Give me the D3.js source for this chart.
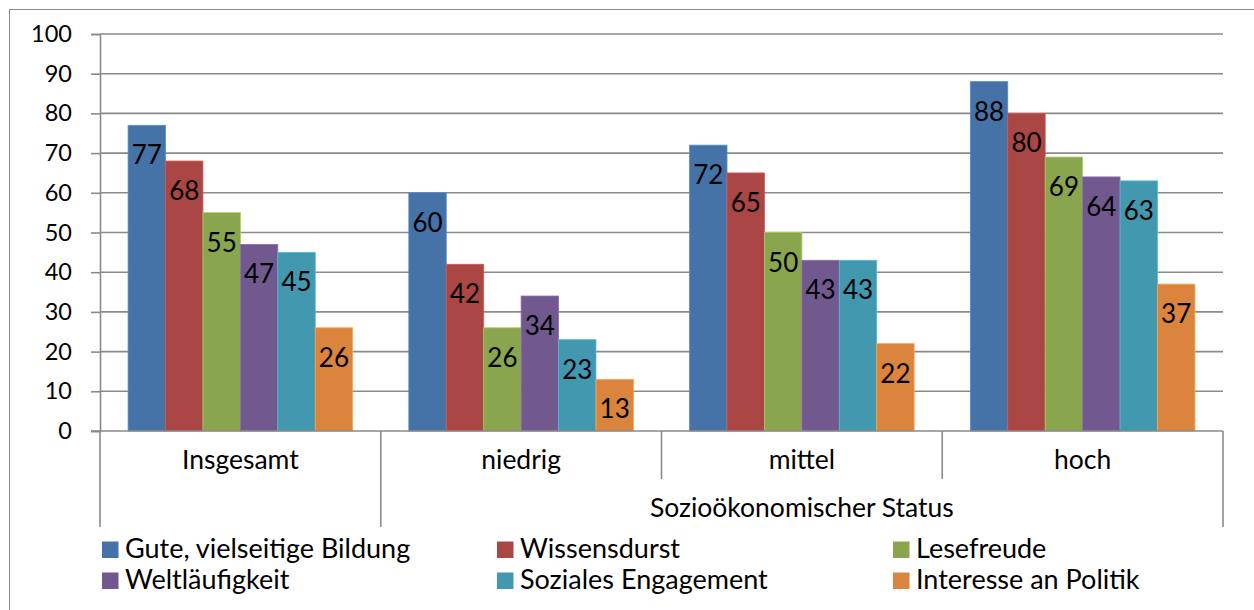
<!DOCTYPE html>
<html>
<head>
<meta charset="utf-8">
<script src="https://cdn.jsdelivr.net/npm/d3@7"></script>
<style>
  html, body { margin: 0; padding: 0; background: #fff; }
  svg { display: block; }
  text { font-family: Lato, "Noto Sans", sans-serif; fill: #000; }
</style>
</head>
<body>
<svg id="chart" width="1254" height="610"></svg>
<script>
// Kategorien und Reihen
const categories = ["Insgesamt", "niedrig", "mittel", "hoch"];
const groupLabel = "Sozioökonomischer Status";
const seriesNames = [
  "Gute, vielseitige Bildung",
  "Wissensdurst",
  "Lesefreude",
  "Weltläufigkeit",
  "Soziales Engagement",
  "Interesse an Politik"
];
const seriesColors = ["#4572A7", "#AA4643", "#89A54E", "#71588F", "#4198AF", "#DB843D"];

// Werte je Reihe, in der Reihenfolge der Kategorien
const bildung     = [77, 60, 72, 88];
const wissen      = [68, 42, 65, 80];
const lesefreude  = [55, 26, 50, 69];
const welt        = [47, 34, 43, 64];
const sozial      = [45, 23, 43, 63];
const politik     = [26, 13, 22, 37];
const seriesValues = [bildung, wissen, lesefreude, welt, sozial, politik];

const yTicks = [0, 10, 20, 30, 40, 50, 60, 70, 80, 90, 100];

const svg = d3.select("#chart");
const plot = { left: 100, right: 1223, top: 34, bottom: 431 };
const gridColor = "#8a8a8a";

// Rahmen
svg.append("rect")
  .attr("x", 9.5).attr("y", 9.5)
  .attr("width", 1260).attr("height", 620)
  .attr("fill", "none").attr("stroke", "#8c8c8c").attr("stroke-width", 1);

const y = d3.scaleLinear().domain([0, 100]).range([plot.bottom, plot.top]);
const x0 = d3.scaleBand().domain(categories).range([plot.left, plot.right]).padding(0);
const x1 = d3.scaleBand().domain(d3.range(seriesNames.length))
  .range([0, x0.bandwidth()]).paddingInner(0).paddingOuter(0.75);

// Gitterlinien
svg.append("g").selectAll("line").data(yTicks.filter(d => d > 0)).join("line")
  .attr("x1", plot.left).attr("x2", plot.right)
  .attr("y1", d => y(d)).attr("y2", d => y(d))
  .attr("stroke", gridColor).attr("stroke-width", 1.6);

// Y-Achse
const yAxis = svg.append("g").attr("transform", `translate(${plot.left},0)`)
  .call(d3.axisLeft(y).tickValues(yTicks).tickSize(9).tickPadding(19));
yAxis.select(".domain").attr("stroke", gridColor).attr("stroke-width", 1.6);
yAxis.selectAll(".tick line").attr("stroke", gridColor).attr("stroke-width", 1.6);
yAxis.selectAll(".tick text")
  .style("font-family", "Lato, 'Noto Sans', sans-serif")
  .style("font-size", "23.5px").attr("fill", "#000");

// Balken
const rows = [];
categories.forEach((c, ci) => {
  seriesValues.forEach((vals, si) => rows.push({ cat: c, si, v: vals[ci] }));
});

const barsG = svg.append("g");
barsG.selectAll("rect").data(rows).join("rect")
  .attr("x", d => x0(d.cat) + x1(d.si))
  .attr("y", d => y(d.v))
  .attr("width", x1.bandwidth())
  .attr("height", d => y(0) - y(d.v))
  .attr("fill", d => seriesColors[d.si])
  .attr("stroke", d => d3.color(seriesColors[d.si]).brighter(0.6))
  .attr("stroke-width", 0.8);

// Datenbeschriftungen
barsG.selectAll("text").data(rows).join("text")
  .attr("x", d => x0(d.cat) + x1(d.si) + x1.bandwidth() / 2)
  .attr("y", d => y(d.v) + 39)
  .attr("text-anchor", "middle")
  .style("font-size", "26px")
  .text(d => d.v);

// Kategorienachse
svg.append("line")
  .attr("x1", 91).attr("x2", plot.right)
  .attr("y1", plot.bottom).attr("y2", plot.bottom)
  .attr("stroke", gridColor).attr("stroke-width", 1.6);

const bounds = categories.map(c => x0(c)).concat([plot.right]);
const axisG = svg.append("g");
bounds.forEach((bx, i) => {
  const outer = (i === 0 || i === 1 || i === bounds.length - 1);
  axisG.append("line")
    .attr("x1", bx).attr("x2", bx)
    .attr("y1", plot.bottom).attr("y2", outer ? 527 : 479)
    .attr("stroke", gridColor).attr("stroke-width", 1.6);
});

axisG.selectAll("text.cat").data(categories).join("text")
  .attr("class", "cat")
  .attr("x", d => x0(d) + x0.bandwidth() / 2)
  .attr("y", 469)
  .attr("text-anchor", "middle")
  .style("font-size", "26.5px")
  .text(d => d);

axisG.append("text")
  .attr("x", (x0(categories[1]) + plot.right) / 2)
  .attr("y", 517)
  .attr("text-anchor", "middle")
  .style("font-size", "26.5px")
  .text(groupLabel);

// Legende
const legendCols = [102, 497, 893];
const legendRows = [558, 589];
const legend = svg.append("g");
seriesNames.forEach((name, i) => {
  const cx = legendCols[i % 3];
  const by = legendRows[Math.floor(i / 3)];
  legend.append("rect")
    .attr("x", cx).attr("y", by - 16.5)
    .attr("width", 16.5).attr("height", 16.5)
    .attr("fill", seriesColors[i]);
  legend.append("text")
    .attr("x", cx + 23).attr("y", by)
    .style("font-size", "27px")
    .text(name);
});
</script>
</body>
</html>
